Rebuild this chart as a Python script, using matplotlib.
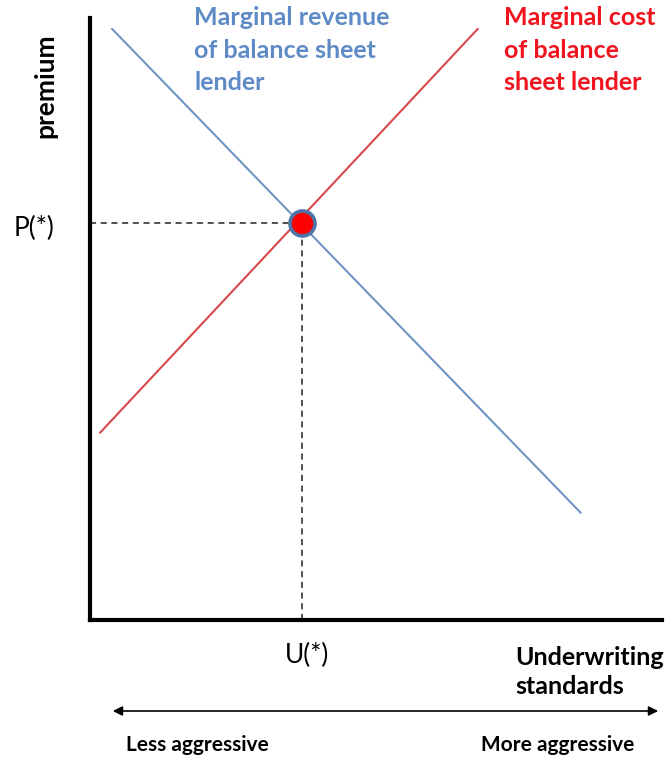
import matplotlib
matplotlib.use("Agg")
import matplotlib.pyplot as plt

plt.rcParams['font.family'] = ['Lato', 'DejaVu Sans']

# Data (axes units 0..100)
revenue_x = [3.85, 85.8]
revenue_y = [98.2, 17.8]
cost_x = [1.75, 67.8]
cost_y = [31.1, 98.2]
eq_x = 37.1
eq_y = 65.9

W, H = 669, 759
fig = plt.figure(figsize=(W/100, H/100), dpi=100)

def fx(px):
    return px / W
def fy(py):
    return 1 - py / H

ax = fig.add_axes([fx(90), fy(620), (662-90)/W, (620-18)/H])
ax.set_xlim(0, 100)
ax.set_ylim(0, 100)
for s in ['top', 'right']:
    ax.spines[s].set_visible(False)
for s in ['left', 'bottom']:
    ax.spines[s].set_linewidth(3)
    ax.spines[s].set_color('black')
ax.set_xticks([])
ax.set_yticks([])

blue_line = '#7094C2'
red_line = '#D9484A'
ax.plot(revenue_x, revenue_y, color=blue_line, lw=1.5, solid_capstyle='round')
ax.plot(cost_x, cost_y, color=red_line, lw=1.5, solid_capstyle='round')
ax.plot([0, eq_x], [eq_y, eq_y], color='#222222', lw=1.1, ls=(0, (4, 3)))
ax.plot([eq_x, eq_x], [0, eq_y], color='#222222', lw=1.1, ls=(0, (4, 3)))
ax.plot([eq_x], [eq_y], 'o', ms=18, mfc='#FF0000', mec='#4D74A8', mew=2.6, zorder=5)

blue_txt = '#5E8BC6'
red_txt = '#F0141E'
fig.text(fx(194), fy(6), 'Marginal revenue\nof balance sheet\nlender', color=blue_txt,
         fontsize=18, fontweight='bold', ha='left', va='top', linespacing=1.5)
fig.text(fx(504), fy(6), 'Marginal cost\nof balance\nsheet lender', color=red_txt,
         fontsize=18, fontweight='bold', ha='left', va='top', linespacing=1.5)

fig.text(fx(45), fy(86), 'premium', rotation=90, fontsize=19, fontweight='bold',
         ha='center', va='center')
fig.text(fx(34), fy(228), 'P(*)', fontsize=19, ha='center', va='center')
fig.text(fx(307), fy(655), 'U(*)', fontsize=19, ha='center', va='center')
fig.text(fx(664), fy(672), 'Underwriting\nstandards', fontsize=18, fontweight='bold',
         ha='right', va='center', linespacing=1.35, multialignment='left')

fig.add_artist(matplotlib.patches.FancyArrowPatch(
    (fx(110), fy(711)), (fx(661), fy(711)), transform=fig.transFigure,
    arrowstyle='<|-|>', mutation_scale=14, color='black', lw=1.2))

fig.text(fx(197), fy(745), 'Less aggressive', fontsize=15, fontweight='bold',
         ha='center', va='center')
fig.text(fx(558), fy(745), 'More aggressive', fontsize=15, fontweight='bold',
         ha='center', va='center')

fig.savefig('out.png', dpi=100)
